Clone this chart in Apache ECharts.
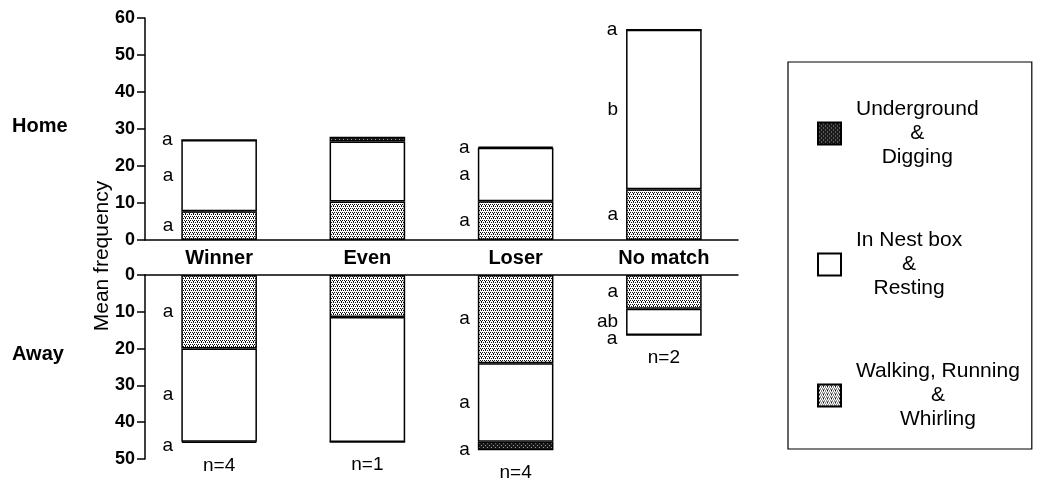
<!DOCTYPE html>
<html>
<head>
<meta charset="utf-8">
<script src="https://cdn.jsdelivr.net/npm/echarts@6/dist/echarts.min.js"></script>
<style>
html,body{margin:0;padding:0;background:#fff;}
#c{width:1041px;height:479px;}
</style>
</head>
<body>
<div id="c"></div>
<script>
// ---- data ----
const categories = ['Winner', 'Even', 'Loser', 'No match'];
const seriesNames = ['Underground\n&\nDigging', 'In Nest box\n&\nResting', 'Walking, Running\n&\nWhirling'];
const homeWalking = [7.8, 10.4, 10.5, 13.7];
const homeNest = [19.2, 16.2, 14.4, 43.1];
const homeUnderground = [0, 1.3, 0.3, 0];
const awayWalking = [20.0, 11.4, 24.0, 9.2];
const awayNest = [25.3, 34.0, 21.3, 7.1];
const awayUnderground = [0.3, 0, 2.3, 0];
const homeWalkLetters = ['a', '', 'a', 'a'];
const homeNestLetters = ['a', '', 'a', 'b'];
const homeUndLetters = ['a', '', 'a', 'a'];
const awayWalkLetters = ['a', '', 'a', 'a'];
const awayNestLetters = ['a', '', 'a', 'ab'];
const awayUndLetters = ['a', '', 'a', 'a'];
const nLabels = ['n=4', 'n=1', 'n=4', 'n=2'];
const homeTicks = [0, 60, 10];
const awayTicks = [0, 50, 10];

// ---- patterns ----
function makePattern(bg, fg, pts) {
  const c = document.createElement('canvas');
  c.width = 4; c.height = 4;
  const g = c.getContext('2d');
  g.fillStyle = bg; g.fillRect(0, 0, 4, 4);
  g.fillStyle = fg;
  pts.forEach(p => g.fillRect(p[0], p[1], 1, 1));
  return { image: c, repeat: 'repeat' };
}
const stipple = makePattern('#ffffff', '#111111', [[0,0],[2,0],[1,2],[3,2],[1,1]]);
const darkStipple = makePattern('#1a1a1a', '#9a9a9a', [[1,1],[3,3]]);

const FONT = 'Liberation Sans, Arial, Helvetica, sans-serif';
const letterLabel = (arr) => ({
  show: true, position: 'left', distance: 8,
  fontFamily: FONT, fontSize: 19, color: '#000',
  formatter: p => arr[p.dataIndex]
});
const barBase = { barWidth: '51%' };

const totalsAway = categories.map((_, i) => awayWalking[i] + awayNest[i] + awayUnderground[i]);

const yAxisCommon = {
  splitLine: { show: false },
  axisLine: { show: true, lineStyle: { color: '#000', width: 1.5 } },
  axisTick: { show: true, length: 8, lineStyle: { color: '#000', width: 1.5 } },
  axisLabel: { margin: 10, fontFamily: FONT, fontSize: 18, fontWeight: 'bold', color: '#000' }
};

const chart = echarts.init(document.getElementById('c'));
chart.setOption({
  animation: false,
  textStyle: { fontFamily: FONT },
  grid: [
    { left: 145, width: 593, top: 18, height: 222 },
    { left: 145, width: 593, top: 275, height: 184 }
  ],
  xAxis: [
    { type: 'category', gridIndex: 0, data: categories,
      axisLine: { lineStyle: { color: '#000', width: 1.5 } },
      axisTick: { length: 7, lineStyle: { color: '#000', width: 1.5 } },
      axisLabel: { margin: 8, fontFamily: FONT, fontSize: 20, fontWeight: 'bold', color: '#000' } },
    { type: 'category', gridIndex: 1, data: categories, position: 'top',
      axisLine: { lineStyle: { color: '#000', width: 1.5 } },
      axisTick: { length: 7, lineStyle: { color: '#000', width: 1.5 } },
      axisLabel: { show: false } }
  ],
  yAxis: [
    Object.assign({ type: 'value', gridIndex: 0, min: homeTicks[0], max: homeTicks[1], interval: homeTicks[2] }, yAxisCommon),
    Object.assign({ type: 'value', gridIndex: 1, inverse: true, min: awayTicks[0], max: awayTicks[1], interval: awayTicks[2] }, yAxisCommon)
  ],
  legend: {
    orient: 'vertical', left: 788, top: 62,
    padding: [37, 12, 19, 29],
    borderColor: '#000', borderWidth: 1.2,
    itemWidth: 23, itemHeight: 22, itemGap: 62,
    icon: 'rect',
    data: [seriesNames[0], seriesNames[1], seriesNames[2]],
    formatter: name => name.split('\n').map(s => '{c|' + s + '}').join('\n'),
    textStyle: {
      padding: [0, 0, 0, 10],
      rich: { c: { align: 'center', fontFamily: FONT, fontSize: 21, lineHeight: 24, color: '#000' } }
    }
  },
  graphic: [
    { type: 'text', left: 12, top: 116, style: { text: 'Home', font: 'bold 20px ' + FONT, fill: '#000' } },
    { type: 'text', left: 12, top: 344, style: { text: 'Away', font: 'bold 20px ' + FONT, fill: '#000' } },
    { type: 'text', x: 102, y: 256, rotation: Math.PI / 2,
      style: { text: 'Mean frequency', font: '21px ' + FONT, fill: '#000', align: 'center', verticalAlign: 'middle' } }
  ],
  series: [
    Object.assign({}, barBase, { type: 'bar', name: seriesNames[2], stack: 'home', xAxisIndex: 0, yAxisIndex: 0,
      data: homeWalking, itemStyle: { color: stipple, borderColor: '#000', borderWidth: 1.5 }, label: letterLabel(homeWalkLetters) }),
    Object.assign({}, barBase, { type: 'bar', name: seriesNames[1], stack: 'home', xAxisIndex: 0, yAxisIndex: 0,
      data: homeNest, itemStyle: { color: '#ffffff', borderColor: '#000', borderWidth: 1.5 }, label: letterLabel(homeNestLetters) }),
    Object.assign({}, barBase, { type: 'bar', name: seriesNames[0], stack: 'home', xAxisIndex: 0, yAxisIndex: 0,
      data: homeUnderground, itemStyle: { color: darkStipple, borderColor: '#000', borderWidth: 1.5 }, label: letterLabel(homeUndLetters) }),
    Object.assign({}, barBase, { type: 'bar', name: seriesNames[2], stack: 'away', xAxisIndex: 1, yAxisIndex: 1,
      data: awayWalking, itemStyle: { color: stipple, borderColor: '#000', borderWidth: 1.5 }, label: letterLabel(awayWalkLetters) }),
    Object.assign({}, barBase, { type: 'bar', name: seriesNames[1], stack: 'away', xAxisIndex: 1, yAxisIndex: 1,
      data: awayNest, itemStyle: { color: '#ffffff', borderColor: '#000', borderWidth: 1.5 }, label: letterLabel(awayNestLetters) }),
    Object.assign({}, barBase, { type: 'bar', name: seriesNames[0], stack: 'away', xAxisIndex: 1, yAxisIndex: 1,
      data: awayUnderground, itemStyle: { color: darkStipple, borderColor: '#000', borderWidth: 1.5 },
      label: Object.assign(letterLabel(awayUndLetters), { offset: [0, 4] }) }),
    { type: 'scatter', name: 'n', xAxisIndex: 1, yAxisIndex: 1, data: totalsAway,
      symbolSize: 1, itemStyle: { color: 'rgba(0,0,0,0)', opacity: 1 }, silent: true,
      label: { show: true, position: 'bottom', distance: 13, fontFamily: FONT, fontSize: 19, color: '#000',
        formatter: p => nLabels[p.dataIndex] } }
  ]
});
</script>
</body>
</html>
